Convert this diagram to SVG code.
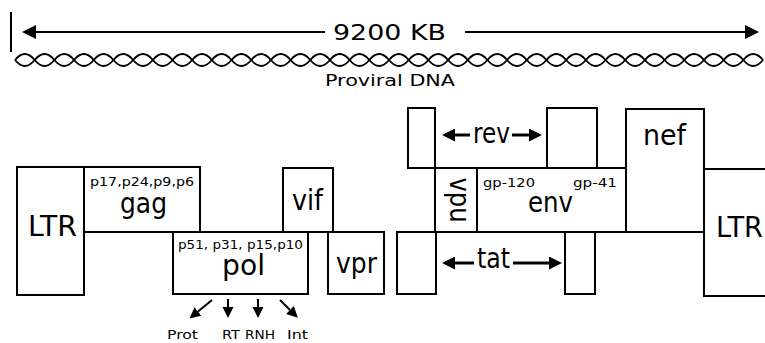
<svg xmlns="http://www.w3.org/2000/svg" width="765" height="343" viewBox="0 0 765 343">
<style>
.box{fill:#fff;stroke:#000;stroke-width:2}
.ln{stroke:#000;stroke-width:2;fill:none}
.arr{stroke:#000;stroke-width:3;fill:none}
.helix{stroke:#000;stroke-width:1.8;fill:none}
text{font-family:"DejaVu Sans","Liberation Sans",sans-serif;fill:#000}
.big{font-size:28px}
.sm{font-size:12px}
.xs{font-size:11.5px}
</style>
<defs>
<marker id="bighead" viewBox="0 0 10 10" refX="0" refY="5" markerWidth="19" markerHeight="14" markerUnits="userSpaceOnUse" orient="auto"><path d="M0,0L10,5L0,10Z" fill="#000"/></marker>
<marker id="head" viewBox="0 0 10 10" refX="0" refY="5" markerWidth="13" markerHeight="13" markerUnits="userSpaceOnUse" orient="auto"><path d="M0,0L10,5L0,10Z" fill="#000"/></marker>
<marker id="smallhead" viewBox="0 0 10 10" refX="0" refY="5" markerWidth="11" markerHeight="12" markerUnits="userSpaceOnUse" orient="auto"><path d="M0,0L10,5L0,10Z" fill="#000"/></marker>
</defs>
<rect width="765" height="343" fill="#fff"/>

<g id="scale">
<line class="ln" x1="11" y1="12" x2="11" y2="52"/>
<line class="ln" x1="325" y1="32" x2="36" y2="32" marker-end="url(#bighead)"/>
<line class="ln" x1="465" y1="32" x2="745" y2="32" marker-end="url(#bighead)"/>
<text x="333" y="40" font-size="21" textLength="113" lengthAdjust="spacingAndGlyphs">9200 KB</text>
</g>

<g id="helix">
<path class="helix" d="M15,60 Q24.84,48 34.68,60 T54.37,60 T74.05,60 T93.74,60 T113.42,60 T133.11,60 T152.79,60 T172.47,60 T192.16,60 T211.84,60 T231.53,60 T251.21,60 T270.89,60 T290.58,60 T310.26,60 T329.95,60 T349.63,60 T369.32,60 T389,60 T408.68,60 T428.37,60 T448.05,60 T467.74,60 T487.42,60 T507.11,60 T526.79,60 T546.47,60 T566.16,60 T585.84,60 T605.53,60 T625.21,60 T644.89,60 T664.58,60 T684.26,60 T703.95,60 T723.63,60 T743.32,60 T763,60"/>
<path class="helix" d="M15,60 Q24.84,72 34.68,60 T54.37,60 T74.05,60 T93.74,60 T113.42,60 T133.11,60 T152.79,60 T172.47,60 T192.16,60 T211.84,60 T231.53,60 T251.21,60 T270.89,60 T290.58,60 T310.26,60 T329.95,60 T349.63,60 T369.32,60 T389,60 T408.68,60 T428.37,60 T448.05,60 T467.74,60 T487.42,60 T507.11,60 T526.79,60 T546.47,60 T566.16,60 T585.84,60 T605.53,60 T625.21,60 T644.89,60 T664.58,60 T684.26,60 T703.95,60 T723.63,60 T743.32,60 T763,60"/>
<text x="325" y="86" font-size="16" textLength="130" lengthAdjust="spacingAndGlyphs">Proviral DNA</text>
</g>

<g id="ltr-left">
<rect class="box" x="17" y="167" width="67" height="128"/>
<text class="big" x="28" y="236" font-size="30" textLength="49" lengthAdjust="spacingAndGlyphs">LTR</text>
</g>
<g id="gag">
<rect class="box" x="84" y="167" width="116" height="65"/>
<text class="sm" x="90" y="186" textLength="104" lengthAdjust="spacingAndGlyphs">p17,p24,p9,p6</text>
<text class="big" x="120" y="213" font-size="25" textLength="47" lengthAdjust="spacingAndGlyphs">gag</text>
</g>
<g id="vif">
<rect class="box" x="283" y="168" width="50" height="64"/>
<text class="big" x="292" y="210" textLength="31" lengthAdjust="spacingAndGlyphs">vif</text>
</g>
<g id="pol">
<rect class="box" x="173" y="232" width="135" height="62"/>
<text class="sm" x="178" y="249" textLength="125" lengthAdjust="spacingAndGlyphs">p51, p31, p15,p10</text>
<text class="big" x="222" y="275" textLength="43" lengthAdjust="spacingAndGlyphs">pol</text>
</g>
<g id="vpr">
<rect class="box" x="328" y="232" width="56" height="62"/>
<text class="big" x="336" y="273" textLength="41" lengthAdjust="spacingAndGlyphs">vpr</text>
</g>

<g id="tat-exon1">
<rect class="box" x="397" y="232" width="39" height="62"/>
</g>
<g id="rev-exon1">
<rect class="box" x="408" y="108" width="27" height="60"/>
</g>
<g id="vpu">
<rect class="box" x="435" y="168" width="42" height="64"/>
<text class="big" font-size="26" transform="translate(450,200) rotate(90)" text-anchor="middle" textLength="45" lengthAdjust="spacingAndGlyphs">vpu</text>
</g>
<g id="env">
<rect class="box" x="477" y="168" width="149" height="64"/>
<text class="sm" x="483" y="187" textLength="52" lengthAdjust="spacingAndGlyphs">gp-120</text>
<text class="sm" x="573" y="187" textLength="44" lengthAdjust="spacingAndGlyphs">gp-41</text>
<text class="big" x="528" y="212" textLength="45" lengthAdjust="spacingAndGlyphs">env</text>
</g>
<g id="rev-exon2">
<rect class="box" x="547" y="108" width="50" height="60"/>
</g>
<g id="tat-exon2">
<rect class="box" x="565" y="232" width="30" height="62"/>
</g>
<g id="nef">
<rect class="box" x="626" y="109" width="78" height="123"/>
<text class="big" x="643" y="145" textLength="43" lengthAdjust="spacingAndGlyphs">nef</text>
</g>
<g id="ltr-right">
<rect class="box" x="704" y="169" width="80" height="127"/>
<text class="big" x="716" y="237" font-size="30" textLength="47" lengthAdjust="spacingAndGlyphs">LTR</text>
</g>

<g id="rev">
<text class="big" x="473" y="143" font-size="26" textLength="37" lengthAdjust="spacingAndGlyphs">rev</text>
</g>
<g id="tat">
<text class="big" x="477" y="268" font-size="26" textLength="33" lengthAdjust="spacingAndGlyphs">tat</text>
</g>

<g id="connectors">
<line class="arr" x1="470" y1="135" x2="455" y2="135" marker-end="url(#head)"/>
<line class="arr" x1="512" y1="135" x2="529" y2="135" marker-end="url(#head)"/>
<line class="arr" x1="474" y1="263" x2="455" y2="263" marker-end="url(#head)"/>
<line class="arr" x1="513" y1="263" x2="549" y2="263" marker-end="url(#head)"/>
<line class="ln" x1="212" y1="300" x2="198" y2="311.5" marker-end="url(#smallhead)"/>
<line class="ln" x1="228" y1="299" x2="228" y2="307" marker-end="url(#smallhead)"/>
<line class="ln" x1="258" y1="299" x2="258" y2="307" marker-end="url(#smallhead)"/>
<line class="ln" x1="280" y1="300" x2="290" y2="310" marker-end="url(#smallhead)"/>
</g>

<g id="enzymes">
<text class="xs" x="167" y="339" textLength="31" lengthAdjust="spacingAndGlyphs">Prot</text>
<text class="xs" x="222" y="339" textLength="18" lengthAdjust="spacingAndGlyphs">RT</text>
<text class="xs" x="245" y="339" textLength="30" lengthAdjust="spacingAndGlyphs">RNH</text>
<text class="xs" x="287" y="339" textLength="21" lengthAdjust="spacingAndGlyphs">Int</text>
</g>
</svg>
